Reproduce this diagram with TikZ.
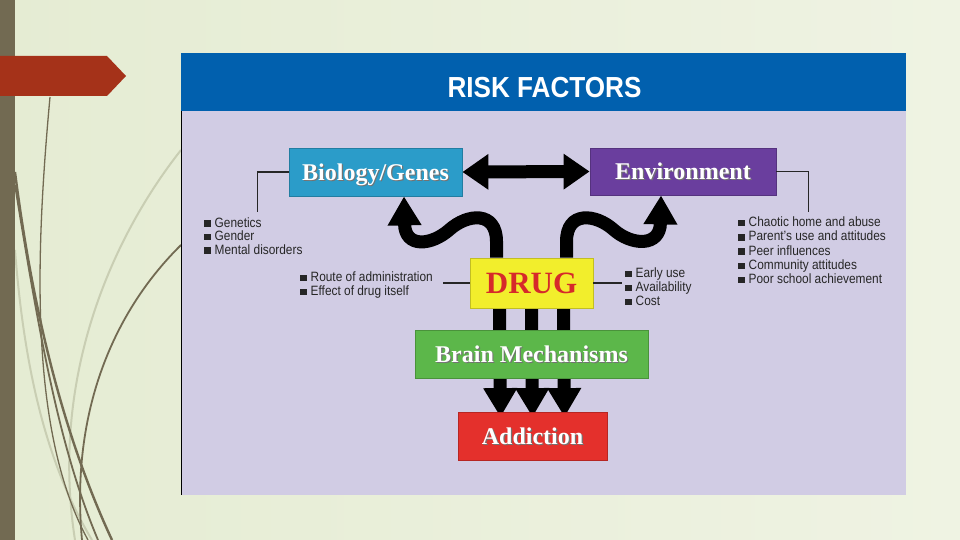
\documentclass[tikz,border=0pt]{standalone}
\usepackage{fontspec}
\setmainfont{Liberation Serif}
\setsansfont{Liberation Sans}
\newfontfamily\narrowsans{Liberation Sans}[FakeStretch=0.88]
\newfontfamily\titlesans{Liberation Sans}[FakeStretch=0.9]
\usetikzlibrary{arrows.meta,calc,backgrounds}
\definecolor{pagebg}{HTML}{E5ECD3}
\definecolor{pagebgr}{HTML}{EFF3E3}
\definecolor{olive}{HTML}{726A52}
\definecolor{olivelt}{HTML}{C9CEB3}
\definecolor{tagred}{HTML}{A53219}
\definecolor{hdblue}{HTML}{0160AE}
\definecolor{lavend}{HTML}{D1CCE4}
\definecolor{biocol}{HTML}{2B9CC9}
\definecolor{envcol}{HTML}{6A3E9E}
\definecolor{drugyel}{HTML}{F2EE2C}
\definecolor{drugred}{HTML}{D62A2A}
\definecolor{braingrn}{HTML}{5CB74A}
\definecolor{addred}{HTML}{E4302C}
\definecolor{inkk}{HTML}{262626}
\newcommand{\shd}[1]{\rlap{\hspace{1.2pt}\raisebox{-1.2pt}{\textcolor{black!55}{#1}}}#1}
\newcommand{\sqb}{\textcolor{inkk}{\rule[0.3pt]{6.5pt}{6.5pt}}\hspace{4pt}}
\tikzset{
  box/.style={rectangle, inner sep=0pt, line width=0.8pt, text=white,
              font=\bfseries\fontsize{24}{26}\selectfont, text height=16pt, text depth=0pt},
  boxbio/.style={box, fill=biocol, draw=biocol!80!black, minimum width=173pt, minimum height=48pt},
  boxenv/.style={box, fill=envcol, draw=envcol!80!black, minimum width=186pt, minimum height=47pt},
  boxdrug/.style={box, fill=drugyel, draw=drugyel!80!black, text=drugred, minimum width=123pt,
                  minimum height=50pt, font=\bfseries\fontsize{31}{33}\selectfont, text height=20.5pt},
  boxbrain/.style={box, fill=braingrn, draw=braingrn!80!black, minimum width=233pt, minimum height=48pt},
  boxadd/.style={box, fill=addred, draw=addred!80!black, minimum width=149pt, minimum height=48pt},
  fat/.style={line width=13pt, draw=black, -{Triangle[width=32pt,length=29pt]}},
  tie/.style={line width=1.6pt, draw=inkk},
  item/.style={font=\narrowsans\fontsize{13.5}{15}\selectfont, text=inkk, inner sep=0pt, anchor=base west},
}
\begin{document}
\begin{tikzpicture}[x=1pt, y=-1pt]
  \useasboundingbox (0,0) rectangle (960,540);
  \begin{scope}[on background layer]
    % slide background
    \shade[left color=pagebg, right color=pagebgr] (0,0) rectangle (960,540);
    \draw[olivelt, line width=2pt] (181,150) .. controls (110,240) and (50,380) .. (75,540);
    \draw[olivelt, line width=2pt] (15,250) .. controls (25,380) and (50,470) .. (92,540);
    \draw[olive, line width=2.4pt] (15,172) .. controls (35,330) and (70,450) .. (112,540);
    \draw[olive, line width=1.8pt] (15,185) .. controls (40,340) and (60,450) .. (98,540);
    \draw[olive, line width=1.3pt] (50,97) .. controls (36,250) and (28,430) .. (88,540);
    \draw[olive, line width=1.8pt] (181,245) .. controls (115,310) and (70,410) .. (82,540);
    \fill[olive] (0,0) rectangle (15,540);
    \fill[tagred] (0,56) -- (107,56) -- (126,76) -- (107,96) -- (0,96) -- cycle;
    % panel
    \node[fill=lavend, minimum width=725pt, minimum height=384pt, inner sep=0pt, anchor=north west] (panel) at (181,111) {};
    \node[fill=hdblue, minimum width=725pt, minimum height=58pt, inner sep=0pt, anchor=north west] (head) at (181,53) {};
    \draw[line width=1pt] (panel.north west) -- (panel.south west);
  \end{scope}
  \node[font=\titlesans\bfseries\fontsize{29}{32}\selectfont, text=white, inner sep=0pt] (title) at (544.5,88) {RISK FACTORS};

  \node[boxbio] (bio) at (375.5,172) {\shd{Biology/Genes}};
  \node[boxenv] (env) at (683,171.5) {\shd{Environment}};
  \node[boxdrug] (drug) at (531.5,283) {DRUG};
  \node[boxbrain] (brain) at (531.5,354) {\shd{Brain Mechanisms}};
  \node[boxadd] (addict) at (532.5,436.5) {\shd{Addiction}};

  \begin{scope}[on background layer]
    \draw[fat] ([xshift=-35pt]drug.north) -- ++(0,-16) .. controls +(0,-31) and +(18,-16) .. ++(-47,-12)
      .. controls +(-18,16) and +(1,52) .. ([xshift=28.5pt]bio.south);
    \draw[fat] ([xshift=35pt]drug.north) -- ++(0,-16) .. controls +(0,-31) and +(-18,-16) .. ++(47,-12)
      .. controls +(18,16) and +(-1,52) .. ([xshift=-22pt]env.south);
    \foreach \dx in {-32,0,32}
      \draw[fat] ([xshift=\dx pt]drug.south) -- ([xshift=\dx pt, yshift=-5pt]addict.north);
    \draw[fat, {Triangle[width=34pt,length=26pt]}-{Triangle[width=34pt,length=26pt]}] (bio.east) -- (env.west);
  \end{scope}

  \draw[tie] (bio.west) -| ++(-31,40);
  \draw[tie] (env.east) -| ++(32,40);
  \draw[tie] (drug.west) -- ++(-27,0);
  \draw[tie] (drug.east) -- ++(29,0);

  \foreach \t [count=\i] in {Genetics,Gender,Mental disorders}
    \node[item] (gen\i) at (204,213.5+13.5*\i) {\sqb\t};
  \foreach \t [count=\i] in {Chaotic home and abuse,Parent’s use and attitudes,Peer influences,Community attitudes,Poor school achievement}
    \node[item] (envl\i) at (738,212.5+14.2*\i) {\sqb\t};
  \foreach \t [count=\i] in {Route of administration,Effect of drug itself}
    \node[item] (rte\i) at (300,267.5+14*\i) {\sqb\t};
  \foreach \t [count=\i] in {Early use,Availability,Cost}
    \node[item] (use\i) at (625,263.5+14*\i) {\sqb\t};
\end{tikzpicture}
\end{document}
